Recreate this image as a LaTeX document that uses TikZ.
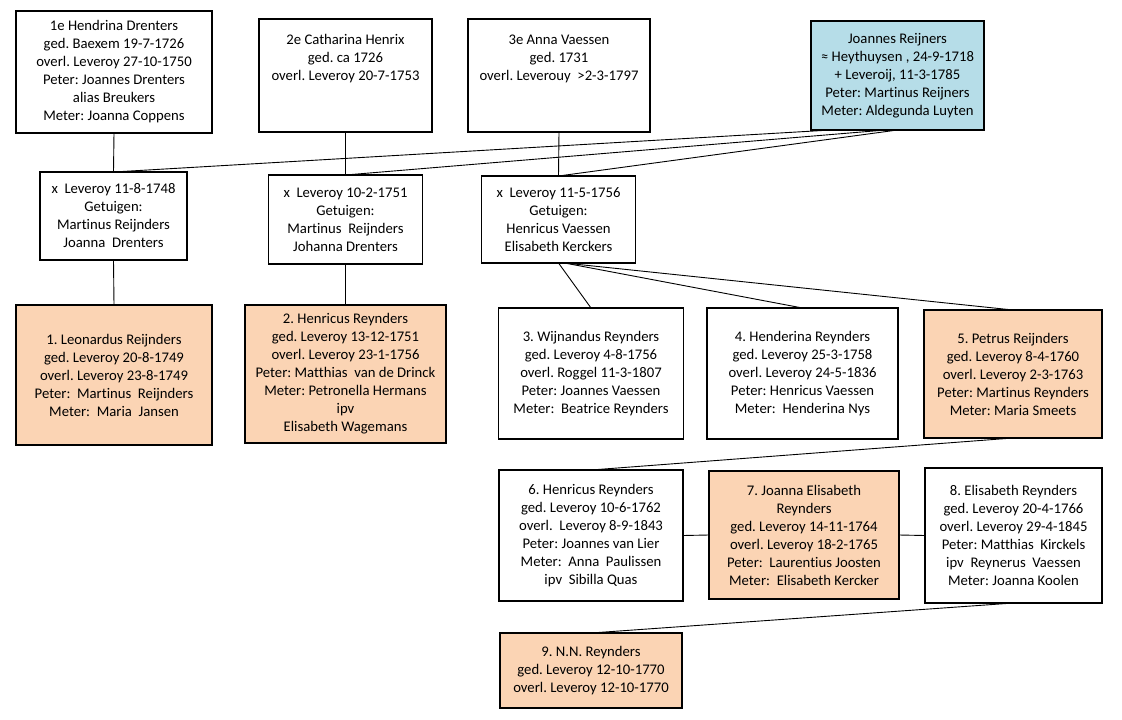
\documentclass[tikz,border=0pt]{standalone}
\usepackage{fontspec}
\setmainfont{Carlito}[Ligatures=NoCommon]
\usepackage{tikz}
\definecolor{kindfill}{HTML}{FBD4B4}
\definecolor{stamfill}{HTML}{B6DDE8}
\newcommand{\tekst}{\fontsize{14.7}{18}\selectfont\frenchspacing}
\tikzset{
  doos/.style={draw=black, line width=1.1pt, fill=white, align=center, inner sep=0pt, outer sep=0pt, font=\tekst},
  kind/.style={doos, fill=kindfill},
  stam/.style={doos, fill=stamfill},
  lijn/.style={draw=black, line width=0.9pt},
}

\begin{document}
\begin{tikzpicture}[x=1pt,y=-1pt]
  \fill[white] (0,0) rectangle (1122,720);
  % ouders
  \node[doos, minimum width=196, minimum height=122] (hendrina) at (114,72)
    {1e Hendrina Drenters\\ ged. Baexem 19-7-1726\\ overl. Leveroy 27-10-1750\\ Peter: Joannes Drenters\\ alias Breukers\\ Meter: Joanna Coppens};
  \node[doos, minimum width=173, minimum height=113] (catharina) at (345.5,75.5)
    {2e Catharina Henrix\\ ged. ca 1726\\ overl. Leveroy 20-7-1753\\ ~\\ ~};
  \node[doos, minimum width=182, minimum height=113] (anna) at (559,75.5)
    {3e Anna Vaessen\\ ged. 1731\\ overl. Leverouy~ >2-3-1797\\ ~\\ ~};
  \node[stam, minimum width=173, minimum height=109] (joannes) at (897.5,75.5)
    {Joannes Reijners\\ ≈ Heythuysen , 24-9-1718\\ + Leveroij, 11-3-1785\\ Peter: Martinus Reijners\\ Meter: Aldegunda Luyten};
  % huwelijken
  \node[doos, minimum width=147, minimum height=88] (huw1) at (113.5,216)
    {x~ Leveroy 11-8-1748\\ Getuigen:\\ Martinus Reijnders\\ Joanna~ Drenters};
  \node[doos, minimum width=154, minimum height=89] (huw2) at (345.5,219.5)
    {x~ Leveroy 10-2-1751\\ Getuigen:\\ Martinus~ Reijnders\\ Johanna Drenters};
  \node[doos, minimum width=154, minimum height=87] (huw3) at (558.5,219.5)
    {x~ Leveroy 11-5-1756\\ Getuigen:\\ Henricus Vaessen\\ Elisabeth Kerckers};
  % kinderen
  \node[kind, minimum width=196, minimum height=140] (kind1) at (114,375)
    {1. Leonardus Reijnders\\ ged. Leveroy 20-8-1749\\ overl. Leveroy 23-8-1749\\ Peter:~ Martinus~ Reijnders\\ Meter:~ Maria~ Jansen};
  \node[kind, minimum width=201, minimum height=138] (kind2) at (345.5,374)
    {2. Henricus Reynders\\ ged. Leveroy 13-12-1751\\ overl. Leveroy 23-1-1756\\ Peter: Matthias~ van de Drinck\\ Meter: Petronella Hermans\\ ipv\\ Elisabeth Wagemans};
  \node[doos, minimum width=185, minimum height=131] (kind3) at (591,373.5)
    {3. Wijnandus Reynders\\ ged. Leveroy 4-8-1756\\ overl. Roggel 11-3-1807\\ Peter: Joannes Vaessen\\ Meter:~ Beatrice Reynders};
  \node[doos, minimum width=191, minimum height=131] (kind4) at (802.5,373.5)
    {4. Henderina Reynders\\ ged. Leveroy 25-3-1758\\ overl. Leveroy 24-5-1836\\ Peter: Henricus Vaessen\\ Meter:~ Henderina Nys};
  \node[kind, minimum width=178, minimum height=128] (kind5) at (1013,374)
    {5. Petrus Reijnders\\ ged. Leveroy 8-4-1760\\ overl. Leveroy 2-3-1763\\ Peter: Martinus Reynders\\ Meter: Maria Smeets};
  \node[doos, minimum width=184, minimum height=131] (kind6) at (591,535.5)
    {6. Henricus Reynders\\ ged. Leveroy 10-6-1762\\ overl.~ Leveroy 8-9-1843\\ Peter: Joannes van Lier\\ Meter:~ Anna~ Paulissen\\ ipv~ Sibilla Quas};
  \node[kind, minimum width=190, minimum height=128] (kind7) at (804,535)
    {7. Joanna Elisabeth\\ Reynders\\ ged. Leveroy 14-11-1764\\ overl. Leveroy 18-2-1765\\ Peter:~ Laurentius Joosten\\ Meter:~ Elisabeth Kercker};
  \node[doos, minimum width=177, minimum height=135] (kind8) at (1013.5,535.5)
    {8. Elisabeth Reynders\\ ged. Leveroy 20-4-1766\\ overl. Leveroy 29-4-1845\\ Peter: Matthias~ Kirckels\\ ipv~ Reynerus~ Vaessen\\ Meter: Joanna Koolen};
  \node[kind, minimum width=182, minimum height=75] (kind9) at (591,670.5)
    {9. N.N. Reynders\\ ged. Leveroy 12-10-1770\\ overl. Leveroy 12-10-1770};

  \draw[lijn] (hendrina.south) -- (huw1.north);
  \draw[lijn] (catharina.south) -- (huw2.north);
  \draw[lijn] (anna.south) -- (huw3.north);
  \draw[lijn] ([xshift=20pt]joannes.south west) -- (huw1.north);
  \draw[lijn] ([xshift=-12pt]joannes.south) -- (huw2.north);
  \draw[lijn] (joannes.south) -- (huw3.north);
  \draw[lijn] (huw1.south) -- (kind1.north);
  \draw[lijn] (huw2.south) -- (kind2.north);
  \draw[lijn] (huw3.south) -- (kind3.north);
  \draw[lijn] ([xshift=6pt]huw3.south) -- (kind4.north);
  \draw[lijn] ([xshift=6pt]huw3.south) -- (kind5.north);
  \draw[lijn] (kind5.south) -- (kind6.north);
  \draw[lijn] (kind6.east) -- (kind7.west);
  \draw[lijn] (kind7.east) -- (kind8.west);
  \draw[lijn] (kind8.south) -- (kind9.north);
\end{tikzpicture}
\end{document}
